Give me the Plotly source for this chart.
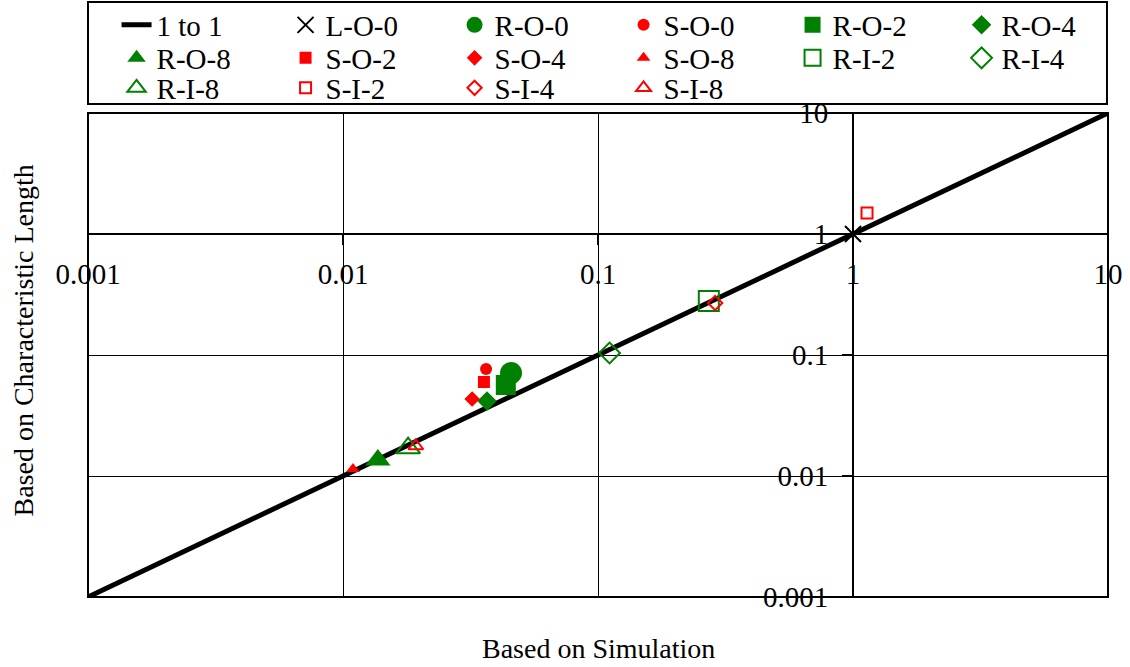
import plotly.graph_objects as go

# ---- data ----
one_to_one = [0.001, 10]

series_names = ["L-O-0", "R-O-0", "S-O-0", "R-O-2", "R-O-4",
                "R-O-8", "S-O-2", "S-O-4", "S-O-8", "R-I-2", "R-I-4",
                "R-I-8", "S-I-2", "S-I-4", "S-I-8"]
sim_values = [1.0, 0.0456, 0.0364, 0.0435, 0.0367,
              0.0137, 0.0357, 0.0321, 0.01094, 0.272, 0.111,
              0.0180, 1.135, 0.288, 0.0193]
char_values = [1.0, 0.0709, 0.0766, 0.0565, 0.0417,
               0.01355, 0.0598, 0.0433, 0.01143, 0.279, 0.104,
               0.0170, 1.49, 0.269, 0.0177]

tick_vals = [0.001, 0.01, 0.1, 1, 10]
tick_text = ["0.001", "0.01", "0.1", "1", "10"]

# ---- styles ----
GREEN = "#008000"
RED = "#FF0000"
symbols = ["x-thin-open", "circle", "circle", "square", "diamond",
           "triangle-up", "square", "diamond", "triangle-up", "square-open", "diamond-open",
           "triangle-up-open", "square-open", "diamond-open", "triangle-up-open"]
colors = ["black", GREEN, RED, GREEN, GREEN,
          GREEN, RED, RED, RED, GREEN, GREEN,
          GREEN, RED, RED, RED]
sizes = [16, 22, 12, 20, 15,
         22, 12, 12, 12, 20, 16,
         21, 11, 11, 13]

FONT = "Liberation Serif"
LEGENDS = ["legend", "legend2", "legend3"]
PER_ROW = 6

fig = go.Figure()
fig.add_trace(go.Scatter(x=one_to_one, y=one_to_one, mode="lines", name="1 to 1",
                         line=dict(color="black", width=5), legend=LEGENDS[0]))
for i, (name, xv, yv, sym, col, sz) in enumerate(
        zip(series_names, sim_values, char_values, symbols, colors, sizes), start=1):
    fig.add_trace(go.Scatter(
        x=[xv], y=[yv], mode="markers", name=name, legend=LEGENDS[i // PER_ROW],
        marker=dict(symbol=sym, color=col, size=sz,
                    line=dict(color=col, width=2 if "open" in sym else 0)),
    ))

axis_common = dict(
    type="log", range=[-3, 1], anchor="free", position=0.75,
    showline=True, linecolor="black", linewidth=2,
    ticks="outside", ticklen=10, tickwidth=2, tickcolor="black",
    tickmode="array", tickvals=tick_vals, ticktext=tick_text,
    showgrid=True, gridcolor="black", gridwidth=1, zeroline=False,
    tickfont=dict(family=FONT, size=29, color="black"),
)

legend_common = dict(
    orientation="h", x=0.028, xanchor="left", yanchor="middle",
    entrywidth=124, entrywidthmode="pixels",
    bgcolor="rgba(0,0,0,0)", borderwidth=0,
    font=dict(family=FONT, size=29, color="black"),
)
row_y = [1.1818, 1.1136, 1.0517]

fig.update_layout(
    width=1130, height=667,
    margin=dict(l=88, r=22, t=113, b=70, autoexpand=False),
    paper_bgcolor="white", plot_bgcolor="white",
    xaxis=dict(**axis_common, ticklabelstandoff=4),
    yaxis=dict(**axis_common, ticklabelstandoff=8),
    showlegend=True,
    legend=dict(**legend_common, y=row_y[0]),
    legend2=dict(**legend_common, y=row_y[1]),
    legend3=dict(**legend_common, y=row_y[2]),
    shapes=[
        dict(type="rect", xref="paper", yref="paper", x0=0, x1=1, y0=0, y1=1,
             line=dict(color="black", width=2), layer="above"),
        dict(type="rect", xref="paper", yref="paper", x0=0, x1=0.999, y0=1.0186, y1=1.2293,
             line=dict(color="black", width=2), layer="below"),
    ],
    annotations=[
        dict(text="Based on Simulation", xref="paper", yref="paper", x=0.5, y=0,
             yshift=-51, xanchor="center", yanchor="middle", showarrow=False,
             font=dict(family=FONT, size=28, color="black")),
        dict(text="Based on Characteristic Length", xref="paper", yref="paper", x=0, y=0.53,
             xshift=-65, xanchor="center", yanchor="middle", textangle=-90, showarrow=False,
             font=dict(family=FONT, size=28, color="black")),
    ],
)
# remove the default 8px page margin so the figure sits at the window's corner
fig.write_html("out.html", config={"displayModeBar": False},
               post_script="document.body.style.margin='0';")
